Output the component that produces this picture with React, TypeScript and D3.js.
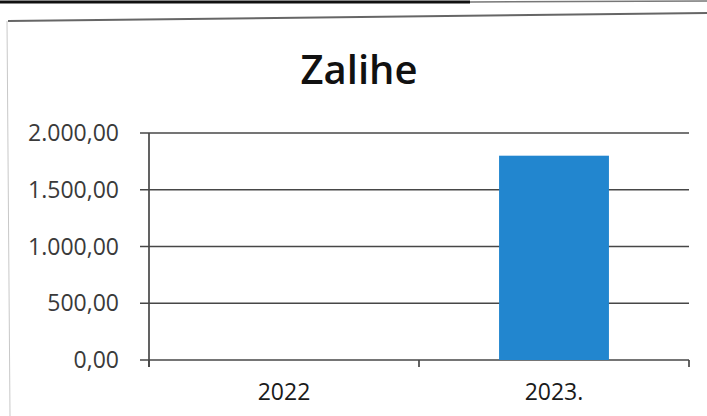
import React from "react";
import * as d3 from "d3";

const categories = ["2022", "2023."];
const values = [0, 1800];
const yTicks = [0, 500, 1000, 1500, 2000];
const title = "Zalihe";

const W = 707;
const H = 416;
const plotLeft = 149;
const plotRight = 689;
const plotTop = 133;
const plotBottom = 360;

const locale = d3.formatLocale({
  decimal: ",",
  thousands: ".",
  grouping: [3],
  currency: ["", ""],
});
const fmt = locale.format(",.2f");

export default function App() {
  const y = d3.scaleLinear().domain([0, 2000]).range([plotBottom, plotTop]);
  const x = d3.scaleBand<string>().domain(categories).range([plotLeft, plotRight]).padding(0);
  const barW = x.bandwidth() * 0.407;
  const font = "'Open Sans', 'Liberation Sans', sans-serif";
  const gridColor = "#474747";

  return (
    <svg
      width={W}
      height={H}
      style={{ position: "absolute", left: 0, top: 0, background: "#fff" }}
    >
      <rect x={0} y={0} width={W} height={H} fill="#fff" />
      {/* scan frame lines */}
      <line x1={0} y1={2} x2={470} y2={2} stroke="#111" strokeWidth={3} />
      <line x1={470} y1={2} x2={707} y2={1} stroke="#777" strokeWidth={1.5} />
      <line x1={8} y1={21} x2={707} y2={13} stroke="#666" strokeWidth={2} />
      <line x1={7} y1={21} x2={10} y2={416} stroke="#c8c8c8" strokeWidth={1} />

      <text
        x={359}
        y={84}
        textAnchor="middle"
        fontFamily={font}
        fontWeight={600}
        fontSize={40}
        fill="#111"
      >
        {title}
      </text>

      {/* gridlines + y ticks */}
      {yTicks.map((t) => (
        <g key={t}>
          <line
            x1={plotLeft - 9}
            x2={plotRight}
            y1={y(t)}
            y2={y(t)}
            stroke={gridColor}
            strokeWidth={1.7}
          />
          <text
            x={119}
            y={y(t) + 8}
            textAnchor="end"
            fontFamily={font}
            fontSize={23}
            fill="#3a3a3a"
          >
            {fmt(t)}
          </text>
        </g>
      ))}

      {/* y axis line */}
      <line x1={plotLeft} x2={plotLeft} y1={plotTop} y2={plotBottom + 7} stroke={gridColor} strokeWidth={1.7} />

      {/* bars */}
      {categories.map((c, i) => (
        <rect
          key={c}
          x={(x(c) as number) + x.bandwidth() / 2 - barW / 2}
          y={y(values[i])}
          width={barW}
          height={plotBottom - y(values[i])}
          fill="#2286cf"
        />
      ))}

      {/* x axis ticks */}
      {[...categories.map((c) => x(c) as number), plotRight].map((px, i) => (
        <line key={i} x1={px} x2={px} y1={plotBottom} y2={plotBottom + 7} stroke={gridColor} strokeWidth={1.7} />
      ))}

      {categories.map((c) => (
        <text
          key={c}
          x={(x(c) as number) + x.bandwidth() / 2}
          y={400}
          textAnchor="middle"
          fontFamily={font}
          fontSize={23}
          fill="#1a1a1a"
        >
          {c}
        </text>
      ))}
    </svg>
  );
}
